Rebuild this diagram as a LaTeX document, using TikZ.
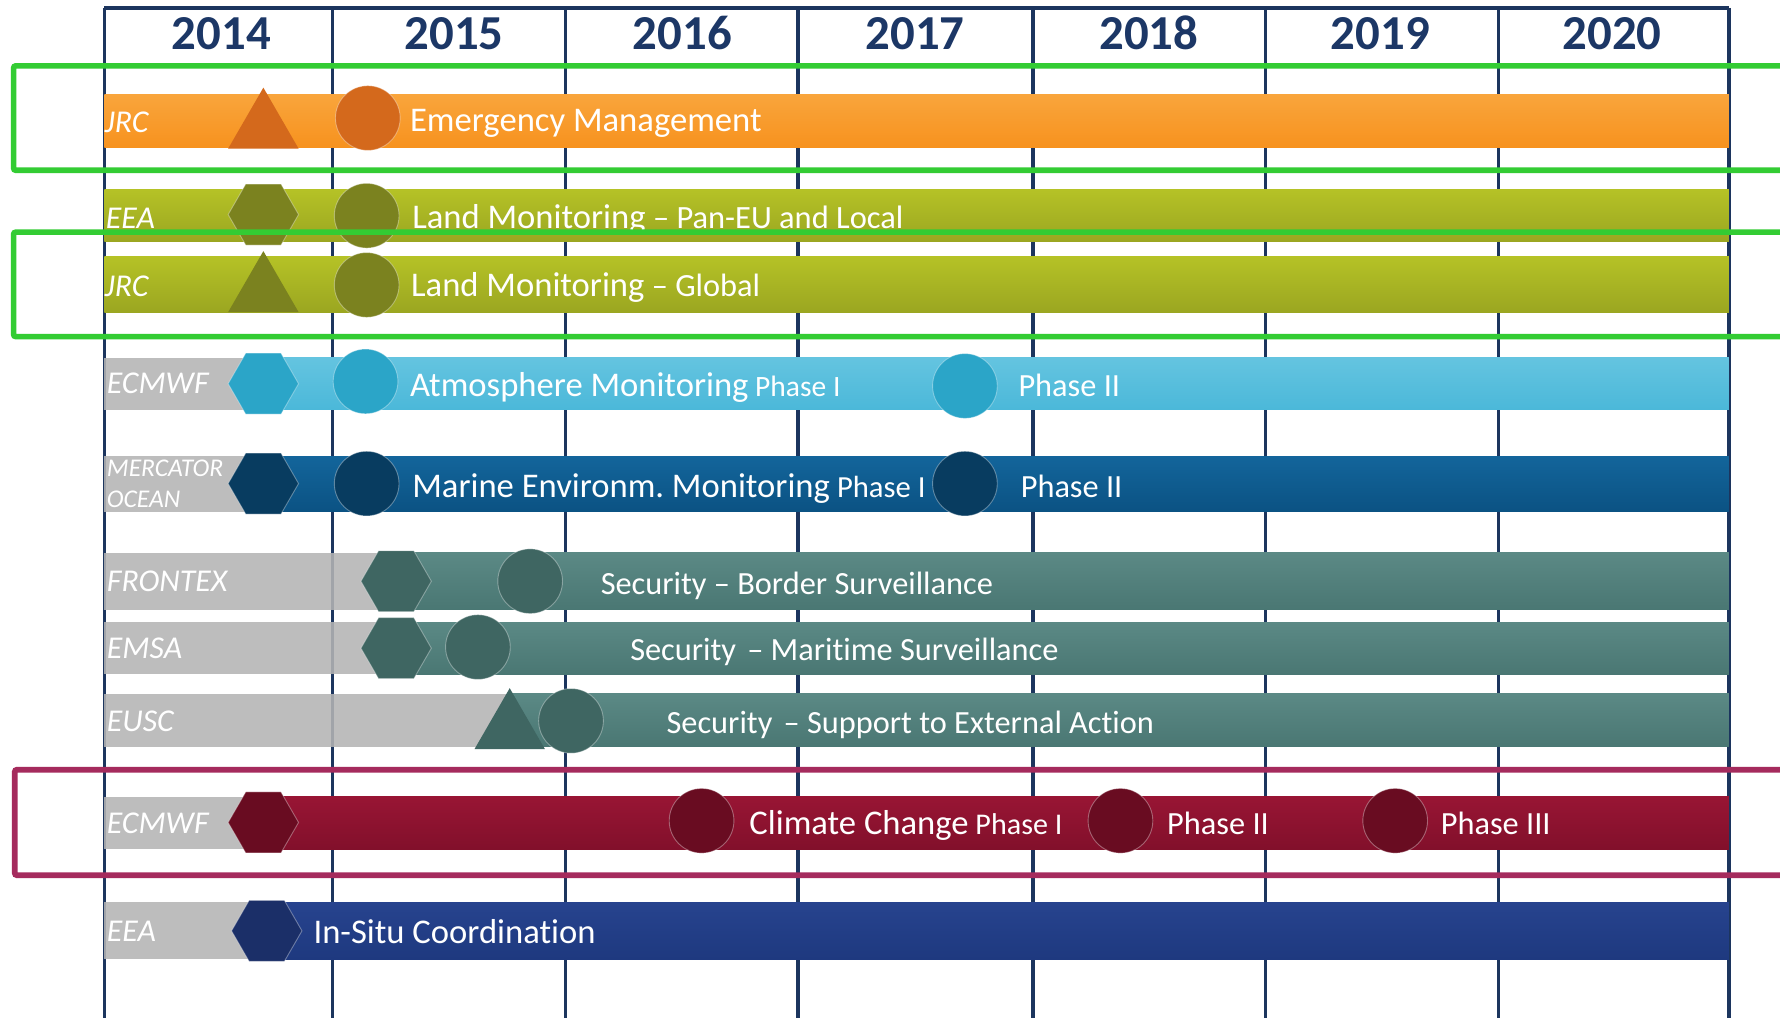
\documentclass[tikz,border=0pt]{standalone}
\usepackage{fontspec}
\setmainfont{Carlito}[Ligatures=NoCommon]
\usetikzlibrary{shapes.geometric}
\frenchspacing
\definecolor{gridc}{HTML}{1C355E}
\definecolor{yearc}{HTML}{1C3766}
\definecolor{grayc}{HTML}{B4B4B4}
\definecolor{orT}{HTML}{F9A53C}\definecolor{orB}{HTML}{F7921E}\definecolor{orS}{HTML}{D4691C}
\definecolor{olT}{HTML}{B5C226}\definecolor{olB}{HTML}{9BA621}\definecolor{olS}{HTML}{7B821F}
\definecolor{lbT}{HTML}{64C4E0}\definecolor{lbB}{HTML}{4BB8D9}\definecolor{lbS}{HTML}{2BA5C8}
\definecolor{mbT}{HTML}{13659B}\definecolor{mbB}{HTML}{0B5283}\definecolor{mbS}{HTML}{083C60}
\definecolor{tlT}{HTML}{5B8985}\definecolor{tlB}{HTML}{4A7773}\definecolor{tlS}{HTML}{3F6662}
\definecolor{crT}{HTML}{981534}\definecolor{crB}{HTML}{82102B}\definecolor{crS}{HTML}{690C21}
\definecolor{isT}{HTML}{27438E}\definecolor{isB}{HTML}{1E397F}\definecolor{isS}{HTML}{1B2F68}
\definecolor{boxg}{HTML}{33CC33}
\definecolor{boxr}{HTML}{A52B5D}
\begin{document}
\begin{tikzpicture}[x=1pt,y=-1pt,
  gridline/.style={draw=gridc, line width=2.8pt},
  year/.style={anchor=base, text=yearc, font=\fontsize{43}{50}\selectfont\bfseries, inner sep=0pt},
  agency/.style={anchor=base west, text=white, font=\fontsize{28}{30}\selectfont\itshape, inner sep=0pt},
  agencys/.style={anchor=base west, text=white, font=\fontsize{22.5}{24}\selectfont\itshape, inner sep=0pt},
  lbl/.style={anchor=base west, text=white, font=\fontsize{30.5}{34}\selectfont, inner sep=0pt},
  lbls/.style={anchor=base west, text=white, font=\fontsize{28.5}{32}\selectfont, inner sep=0pt},
  hexa/.style={regular polygon, regular polygon sides=6, minimum size=62pt, inner sep=0pt, outer sep=0pt, draw=white, draw opacity=0.35, line width=0.8pt},
  tri/.style={regular polygon, regular polygon sides=3, minimum size=71.6pt, inner sep=0pt, outer sep=0pt},
  disc/.style={circle, minimum size=57pt, inner sep=0pt, outer sep=0pt, draw=white, draw opacity=0.35, line width=0.8pt},
  graybar/.style={fill=grayc, fill opacity=0.88},
  hibox/.style={line width=5pt, rounded corners=2pt}
]
\clip (0,0) rectangle (1568,896);
\fill[white] (0,0) rectangle (1568,896);

% grid
\draw[gridline] (92,7) -- (1523,7);
\foreach \gx in {92,293,498,703,910,1115,1320,1523}
  \draw[gridline] (\gx,7) -- (\gx,900);

% years
\node[year] (y2014) at (195,43.5) {2014};
\node[year] (y2015) at (400,43.5) {2015};
\node[year] (y2016) at (601,43.5) {2016};
\node[year] (y2017) at (806,43.5) {2017};
\node[year] (y2018) at (1012,43.5) {2018};
\node[year] (y2019) at (1216,43.5) {2019};
\node[year] (y2020) at (1420,43.5) {2020};

% bars
\shade[top color=orT, bottom color=orB] (92,83) rectangle (1523,130);
\shade[top color=olT, bottom color=olB] (92,167) rectangle (1523,213);
\shade[top color=olT, bottom color=olB] (92,226) rectangle (1523,275);
\fill[graybar] (92,315) rectangle (232,361);
\shade[top color=lbT, bottom color=lbB] (232,315) rectangle (1523,361);
\fill[graybar] (92,402) rectangle (232,451);
\shade[top color=mbT, bottom color=mbB] (232,402) rectangle (1523,451);
\fill[graybar] (92,487) rectangle (349,537);
\shade[top color=tlT, bottom color=tlB] (349,487) rectangle (1523,537);
\fill[graybar] (92,548) rectangle (349,594);
\shade[top color=tlT, bottom color=tlB] (349,548) rectangle (1523,594);
\fill[graybar] (92,611) rectangle (449,658);
\shade[top color=tlT, bottom color=tlB] (449,611) rectangle (1523,658);
\fill[graybar] (92,702) rectangle (232,748);
\shade[top color=crT, bottom color=crB] (232,702) rectangle (1523,748);
\fill[graybar] (92,795) rectangle (235,845);
\shade[top color=isT, bottom color=isB] (235,795) rectangle (1523,845);

% shapes
\node[tri, fill=orS] (emTri) at (232,113) {};
\node[disc, fill=orS] (emC) at (324,104) {};
\node[hexa, fill=olS] (lmHex) at (232,189) {};
\node[disc, fill=olS] (lmC) at (323,190) {};
\node[tri, fill=olS] (lgTri) at (232,257) {};
\node[disc, fill=olS] (lgC) at (323,251) {};
\node[hexa, fill=lbS] (amHex) at (232,338) {};
\node[disc, fill=lbS] (amC1) at (322,336) {};
\node[disc, fill=lbS] (amC2) at (850,340) {};
\node[hexa, fill=mbS] (meHex) at (232,426) {};
\node[disc, fill=mbS] (meC1) at (323,426) {};
\node[disc, fill=mbS] (meC2) at (850,426) {};
\node[hexa, fill=tlS] (bsHex) at (349,512) {};
\node[disc, fill=tlS] (bsC) at (467,512) {};
\node[hexa, fill=tlS] (msHex) at (349,571) {};
\node[disc, fill=tlS] (msC) at (421,570) {};
\node[tri, fill=tlS] (eaTri) at (449,642) {};
\node[disc, fill=tlS] (eaC) at (503,635) {};
\node[hexa, fill=crS] (ccHex) at (232,724.5) {};
\node[disc, fill=crS] (ccC1) at (618,723) {};
\node[disc, fill=crS] (ccC2) at (987,723) {};
\node[disc, fill=crS] (ccC3) at (1229,723) {};
\node[hexa, fill=isS] (isHex) at (235,820) {};

% agency labels
\node[agency] (ag1) at (92,117) {JRC};
\node[agency] (ag2) at (93,201) {EEA};
\node[agency] (ag3) at (92,261) {JRC};
\node[agency] (ag4) at (94,347) {ECMWF};
\node[agencys] (ag5a) at (94,420) {MERCATOR};
\node[agencys] (ag5b) at (94,447) {OCEAN};
\node[agency] (ag6) at (94,521) {FRONTEX};
\node[agency] (ag7) at (94,580) {EMSA};
\node[agency] (ag8) at (94,644) {EUSC};
\node[agency] (ag9) at (94,734) {ECMWF};
\node[agency] (ag10) at (94,829) {EEA};

% programme labels
\node[lbl] (t1) at (361,116) {Emergency Management};
\node[lbl] (t2) at (363,201) {Land Monitoring{\fontsize{28.6}{30}\selectfont{} – Pan-EU and Local}};
\node[lbl] (t3) at (362,261) {Land Monitoring{\fontsize{28.5}{30}\selectfont{} – Global}};
\node[lbl] (t4) at (361,349) {Atmosphere Monitoring{\fontsize{26}{30}\selectfont{} Phase I}};
\node[lbls] (t4b) at (897,349) {Phase II};
\node[lbl] (t5) at (363,438) {Marine Environm. Monitoring{\fontsize{27}{30}\selectfont{} Phase I}};
\node[lbls] (t5b) at (899,438) {Phase II};
\node[lbls] (t6) at (529,524) {Security – Border Surveillance};
\node[lbls] (t7) at (555,582) {Security\hspace{0.12em} – Maritime Surveillance};
\node[lbls] (t8) at (587,646) {Security\hspace{0.12em} – Support to External Action};
\node[lbl] (t9) at (660,735) {Climate Change{\fontsize{26.5}{30}\selectfont{} Phase I}};
\node[lbls] (t9b) at (1028,735) {Phase II};
\node[lbls] (t9c) at (1269,735) {Phase III};
\node[lbl] (t10) at (276,831) {In-Situ Coordination};

% highlight boxes
\draw[hibox, draw=boxg] (12,58) rectangle (1600,150);
\draw[hibox, draw=boxg] (12,204.5) rectangle (1600,296.5);
\draw[hibox, draw=boxr] (13,678) rectangle (1600,771);
\end{tikzpicture}
\end{document}
